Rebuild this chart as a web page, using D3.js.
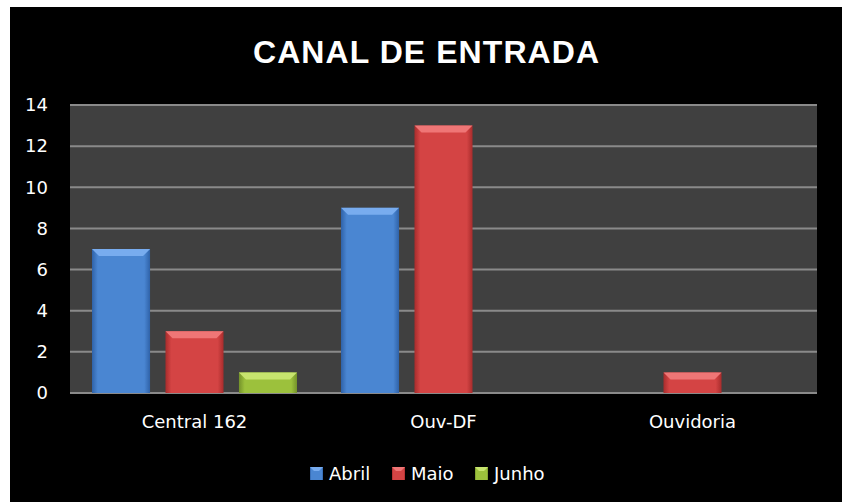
<!DOCTYPE html>
<html>
<head>
<meta charset="utf-8">
<script src="https://cdn.jsdelivr.net/npm/d3@7"></script>
<style>
  body { margin: 0; background: #fff; }
  svg { display: block; }
</style>
</head>
<body>
<div id="chart"></div>
<script>
const categories = ["Central 162", "Ouv-DF", "Ouvidoria"]
const months = ["Abril", "Maio", "Junho"]
const abril = [7, 9, 0]
const maio = [3, 13, 1]
const junho = [1, 0, 0]
const yTicks = [0, 2, 4, 6, 8, 10, 12, 14]

const width = 848
const height = 502
const margin = { top: 105, right: 31, bottom: 109, left: 70 }

const colors = {
    Abril: { main: "#4a86d2", edge: "#2f62a8", top: "#78acef" },
    Maio: { main: "#d44444", edge: "#a82c2c", top: "#ef7676" },
    Junho: { main: "#9cc13c", edge: "#74922a", top: "#c7e46e" }
}

const data = categories.map((c, i) => ({
    cat: c,
    Abril: abril[i],
    Maio: maio[i],
    Junho: junho[i]
}))

const svg = d3.select("#chart")
    .append("svg")
    .attr("width", width)
    .attr("height", height)

svg.append("rect")
    .attr("x", 10).attr("y", 7)
    .attr("width", 832).attr("height", 495)
    .attr("fill", "#000")

// gradients for the bevelled bars
const defs = svg.append("defs")
months.forEach(m => {
    const g = defs.append("linearGradient")
        .attr("id", "grad-" + m)
        .attr("x1", "0").attr("x2", "1").attr("y1", "0").attr("y2", "0")
    g.append("stop").attr("offset", "0").attr("stop-color", colors[m].edge)
    g.append("stop").attr("offset", "0.1").attr("stop-color", colors[m].main)
    g.append("stop").attr("offset", "0.9").attr("stop-color", colors[m].main)
    g.append("stop").attr("offset", "1").attr("stop-color", colors[m].edge)
})

const x0 = d3.scaleBand()
    .domain(categories)
    .range([margin.left, width - margin.right])
    .padding(0)

const x1 = d3.scaleBand()
    .domain(months)
    .range([22, x0.bandwidth() - 22])
    .paddingInner(0.21)
    .paddingOuter(0)

const y = d3.scaleLinear()
    .domain([0, 14])
    .range([height - margin.bottom, margin.top])

// plot area
svg.append("rect")
    .attr("x", margin.left)
    .attr("y", y(14))
    .attr("width", width - margin.right - margin.left)
    .attr("height", y(0) - y(14))
    .attr("fill", "#404040")

// grid lines
svg.append("g")
    .selectAll("line")
    .data(yTicks)
    .join("line")
    .attr("x1", margin.left)
    .attr("x2", width - margin.right)
    .attr("y1", d => y(d))
    .attr("y2", d => y(d))
    .attr("stroke", "#8a8a8a")
    .attr("stroke-width", 2)

// y axis labels
const yAxis = d3.axisLeft(y).tickValues(yTicks).tickSize(0).tickPadding(22)
svg.append("g")
    .attr("transform", `translate(${margin.left}, 0)`)
    .call(yAxis)
    .call(g => g.select(".domain").remove())
    .selectAll("text")
    .attr("fill", "#fff")
    .attr("font-family", "DejaVu Sans")
    .attr("font-size", 18)

// x axis labels
const xAxis = d3.axisBottom(x0).tickSize(0).tickPadding(22)
svg.append("g")
    .attr("transform", `translate(0, ${y(0)})`)
    .call(xAxis)
    .call(g => g.select(".domain").remove())
    .selectAll("text")
    .attr("fill", "#fff")
    .attr("font-family", "DejaVu Sans")
    .attr("font-size", 18)

// bars
const groups = svg.append("g")
    .selectAll("g")
    .data(data)
    .join("g")
    .attr("transform", d => `translate(${x0(d.cat)}, 0)`)

const bars = groups.selectAll("g")
    .data(d => months.map(key => ({ key, value: d[key] })).filter(d => d.value > 0))
    .join("g")

bars.append("rect")
    .attr("x", d => x1(d.key))
    .attr("y", d => y(d.value))
    .attr("width", x1.bandwidth())
    .attr("height", d => y(0) - y(d.value))
    .attr("fill", d => `url(#grad-${d.key})`)

// top bevel
const bev = 7
bars.append("path")
    .attr("d", d => {
        const xl = x1(d.key), xr = xl + x1.bandwidth(), yt = y(d.value)
        return `M${xl},${yt} L${xr},${yt} L${xr - bev},${yt + bev} L${xl + bev},${yt + bev} Z`
    })
    .attr("fill", d => colors[d.key].top)

// title
svg.append("text")
    .attr("x", width / 2 + 2)
    .attr("y", 63)
    .attr("text-anchor", "middle")
    .attr("fill", "#fff")
    .attr("font-family", "Liberation Sans, Arial, sans-serif")
    .attr("font-weight", "bold")
    .attr("font-size", 32)
    .attr("textLength", 346)
    .text("CANAL DE ENTRADA")

// legend
const legendX = [310, 392, 475]
const legend = svg.append("g")
    .selectAll("g")
    .data(months)
    .join("g")
    .attr("transform", (d, i) => `translate(${legendX[i]}, 467)`)

legend.append("rect")
    .attr("width", 13)
    .attr("height", 13)
    .attr("fill", d => `url(#grad-${d})`)
legend.append("path")
    .attr("d", "M0,0 L13,0 L9,4 L4,4 Z")
    .attr("fill", d => colors[d].top)
legend.append("text")
    .attr("x", 19)
    .attr("y", 13)
    .attr("fill", "#fff")
    .attr("font-family", "DejaVu Sans")
    .attr("font-size", 18)
    .text(d => d)
</script>
</body>
</html>
